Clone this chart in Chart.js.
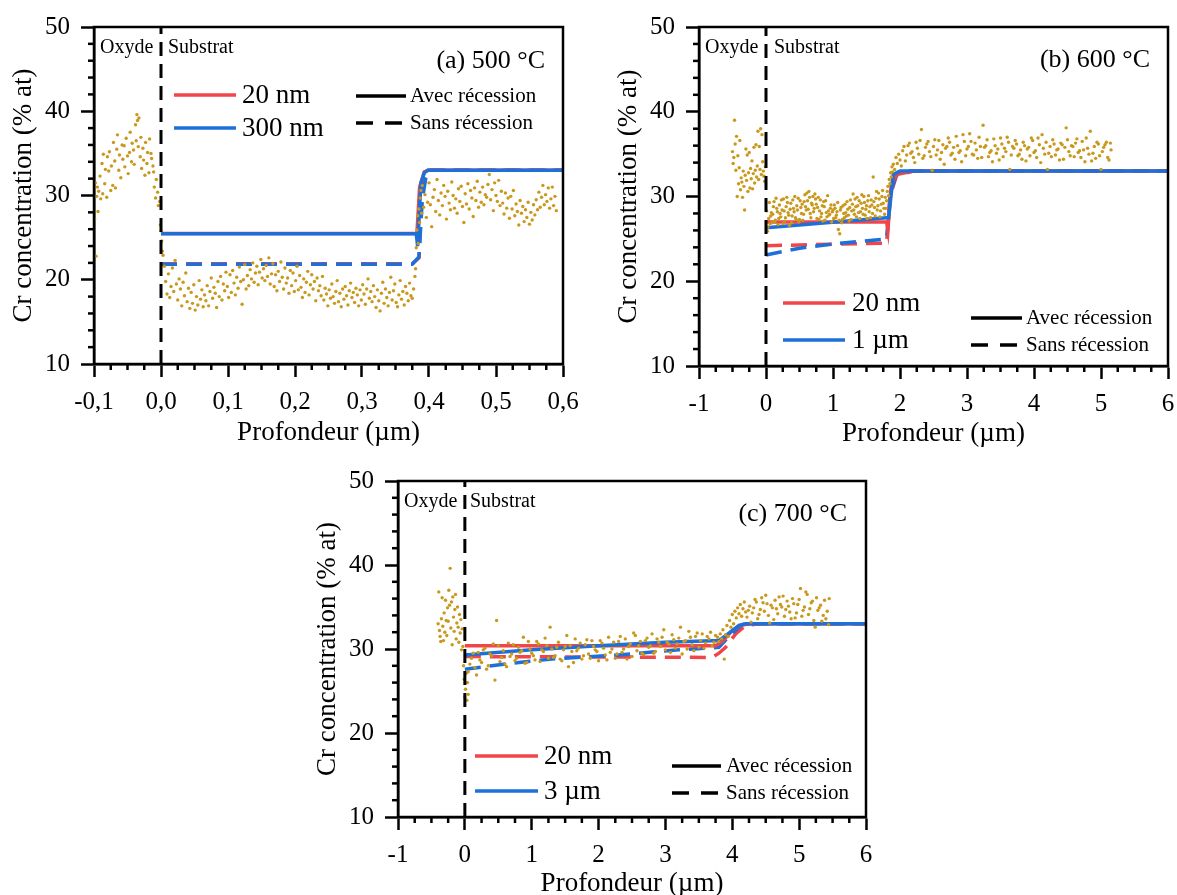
<!DOCTYPE html>
<html lang="fr">
<head>
<meta charset="utf-8">
<title>Profils Cr</title>
<script src="https://cdn.jsdelivr.net/npm/chart.js@4.4.1/dist/chart.umd.min.js"></script>
<style>
  html, body { margin: 0; padding: 0; background: #fff; }
  body { width: 1177px; height: 895px; position: relative; overflow: hidden; }
  canvas { position: absolute; }
</style>
</head>
<body>
<canvas id="chartA" width="590" height="450" style="left:0;top:0"></canvas>
<canvas id="chartB" width="600" height="450" style="left:590px;top:0"></canvas>
<canvas id="chartC" width="600" height="440" style="left:300px;top:455px"></canvas>
<script>
// --- données (profondeur µm, Cr % at) ---

// (a) 500 °C : mesures
const mesuresA = [
  [-0.100,30.8],[-0.099,27.2],[-0.098,31.5],[-0.097,22.8],[-0.096,29.9],[-0.095,31.0],[-0.094,28.1],[-0.093,30.5],
  [-0.091,32.3],[-0.090,29.6],[-0.088,33.8],[-0.087,30.2],[-0.086,34.9],[-0.084,31.4],[-0.083,33.1],[-0.081,29.8],
  [-0.080,34.6],[-0.078,32.9],[-0.077,35.2],[-0.075,30.6],[-0.074,33.5],[-0.072,31.2],[-0.071,36.3],[-0.069,34.1],
  [-0.068,30.9],[-0.066,35.5],[-0.065,37.2],[-0.063,33.0],[-0.062,34.8],[-0.060,32.1],[-0.058,36.0],[-0.057,34.3],
  [-0.055,35.9],[-0.054,33.4],[-0.052,36.8],[-0.050,34.7],[-0.049,32.6],[-0.047,35.1],[-0.046,37.5],[-0.044,34.0],
  [-0.043,36.2],[-0.041,35.4],[-0.040,33.7],[-0.038,38.4],[-0.037,36.5],[-0.036,39.6],[-0.035,38.9],[-0.034,35.8],
  [-0.033,39.2],[-0.031,34.6],[-0.030,36.9],[-0.029,33.2],[-0.027,35.6],[-0.026,34.2],[-0.024,32.4],[-0.023,36.3],
  [-0.021,33.8],[-0.020,35.1],[-0.018,32.7],[-0.017,36.7],[-0.015,35.0],[-0.014,34.4],[-0.012,33.5],[-0.011,32.8],
  [-0.010,31.0],[-0.008,29.7],[-0.007,31.9],[-0.005,30.4],[-0.004,28.8],[-0.002,29.3],[-0.001,26.5],[0.000,25.8],
  [0.001,24.6],[0.002,23.4],[0.003,22.9],
  [0.005,21.6],[0.007,19.8],[0.009,18.3],[0.011,20.7],[0.013,17.9],[0.015,19.2],[0.017,21.4],[0.019,18.6],
  [0.021,22.3],[0.023,19.5],[0.025,17.6],[0.027,20.1],[0.029,18.9],[0.031,16.9],[0.033,19.7],[0.035,18.1],
  [0.037,20.8],[0.039,17.4],[0.041,19.0],[0.043,16.6],[0.045,18.5],[0.047,17.2],[0.049,19.4],[0.051,16.4],
  [0.053,18.0],[0.055,17.0],[0.057,19.9],[0.059,17.7],[0.061,18.8],[0.063,16.8],[0.065,18.2],[0.067,17.5],
  [0.069,19.3],[0.071,16.9],[0.073,18.6],[0.075,20.2],[0.077,17.8],[0.079,19.1],[0.081,18.4],[0.083,16.7],
  [0.085,19.8],[0.087,18.0],[0.089,20.4],[0.091,17.6],[0.093,19.5],[0.095,18.7],[0.097,20.9],[0.099,19.2],
  [0.101,17.9],[0.103,20.6],[0.105,18.5],[0.107,21.1],[0.109,19.6],[0.111,18.2],[0.113,20.3],[0.115,19.0],
  [0.117,21.5],[0.119,19.8],[0.121,17.1],[0.123,20.0],[0.125,21.8],[0.127,18.9],[0.129,20.5],[0.131,19.3],
  [0.133,21.2],[0.135,20.1],[0.137,22.0],[0.139,19.7],[0.141,20.8],[0.143,21.6],[0.145,19.4],[0.147,20.9],
  [0.149,22.4],[0.151,20.2],[0.153,21.3],[0.155,19.9],[0.157,21.7],[0.159,20.4],[0.161,22.6],[0.163,19.5],
  [0.165,20.7],[0.167,21.9],[0.169,19.2],[0.171,20.6],[0.173,18.7],[0.175,21.0],[0.177,19.8],[0.179,22.1],
  [0.181,20.3],[0.183,18.9],[0.185,21.4],[0.187,19.6],[0.189,20.2],[0.191,18.4],[0.193,21.1],[0.195,19.3],
  [0.197,20.8],[0.199,18.6],[0.201,19.9],[0.203,21.6],[0.205,18.8],[0.207,20.5],[0.209,19.1],[0.211,17.9],
  [0.213,20.1],[0.215,18.5],[0.217,19.7],[0.219,21.0],[0.221,18.2],[0.223,19.4],[0.225,20.6],[0.227,18.9],
  [0.229,19.8],[0.231,17.5],[0.233,20.2],[0.235,18.7],[0.237,19.3],[0.239,18.1],[0.241,20.4],[0.243,17.6],
  [0.245,19.0],[0.247,18.3],[0.249,16.9],[0.251,18.8],[0.253,17.8],[0.255,19.5],[0.257,18.0],[0.259,17.2],
  [0.261,18.6],[0.263,19.9],[0.265,17.4],[0.267,18.4],[0.269,16.8],[0.271,18.9],[0.273,17.7],[0.275,19.2],
  [0.277,18.1],[0.279,17.0],[0.281,18.7],[0.283,19.6],[0.285,17.9],[0.287,18.5],[0.289,17.3],[0.291,19.0],
  [0.293,18.2],[0.295,16.9],[0.297,18.8],[0.299,17.6],[0.301,19.4],[0.303,18.3],[0.305,17.1],[0.307,18.9],
  [0.309,20.1],[0.311,17.8],[0.313,18.6],[0.315,17.4],[0.317,19.3],[0.319,18.0],[0.321,16.7],[0.323,18.8],
  [0.325,17.5],[0.327,16.3],[0.329,18.4],[0.331,19.7],[0.333,17.2],[0.335,18.9],[0.337,17.9],[0.339,16.9],
  [0.341,18.5],[0.343,20.3],[0.345,17.6],[0.347,18.7],[0.349,19.5],[0.351,17.3],[0.353,16.8],[0.355,18.2],
  [0.357,19.9],[0.359,17.7],[0.361,18.6],[0.363,17.0],[0.365,19.2],[0.367,18.4],[0.369,17.5],[0.371,19.6],
  [0.373,18.1],[0.375,17.8],[0.377,18.9],[0.379,20.4],[0.380,21.3],
  [0.381,23.8],[0.382,25.9],[0.383,27.6],[0.384,24.3],[0.385,28.4],[0.386,26.8],[0.387,29.7],[0.388,30.6],
  [0.389,27.9],[0.390,31.2],
  [0.392,28.6],[0.394,30.1],[0.396,27.4],[0.398,29.2],[0.400,31.5],[0.402,28.9],[0.404,26.3],[0.406,29.8],
  [0.408,30.7],[0.410,28.1],[0.412,31.9],[0.414,29.4],[0.416,27.7],[0.418,30.3],[0.420,28.8],[0.422,31.2],
  [0.424,29.9],[0.426,27.2],[0.428,30.5],[0.430,29.1],[0.432,28.3],[0.434,31.6],[0.436,30.0],[0.438,28.5],
  [0.440,29.6],[0.442,27.9],[0.444,30.8],[0.446,29.3],[0.448,31.1],[0.450,28.7],[0.452,26.8],[0.454,30.2],
  [0.456,29.0],[0.458,31.4],[0.460,28.4],[0.462,30.6],[0.464,29.7],[0.466,27.5],[0.468,30.9],[0.470,29.4],
  [0.472,31.7],[0.474,28.6],[0.476,30.4],[0.478,29.2],[0.480,31.0],[0.482,28.9],[0.484,30.1],[0.486,29.8],
  [0.488,31.3],[0.490,32.5],[0.492,29.5],[0.494,30.7],[0.496,28.2],[0.498,31.5],[0.500,30.0],[0.502,29.3],
  [0.504,31.8],[0.506,28.8],[0.508,30.5],[0.510,29.1],[0.512,27.8],[0.514,30.3],[0.516,28.5],[0.518,29.7],
  [0.520,27.3],[0.522,29.9],[0.524,28.4],[0.526,30.6],[0.528,27.6],[0.530,29.0],[0.532,28.1],[0.534,26.5],
  [0.536,29.4],[0.538,27.9],[0.540,28.7],[0.542,26.9],[0.544,28.3],[0.546,27.4],[0.548,29.2],[0.550,26.6],
  [0.552,28.0],[0.554,27.1],[0.556,28.9],[0.558,27.7],[0.560,29.5],[0.562,28.3],[0.564,30.4],[0.566,28.6],
  [0.568,29.8],[0.570,31.2],[0.572,28.9],[0.574,30.1],[0.576,29.3],[0.578,30.9],[0.580,28.5],[0.582,29.6],
  [0.584,31.0],[0.586,28.8],[0.588,29.9],[0.590,28.2]
];
// (a) modèles : 20 nm / 300 nm, avec / sans récession
const a20Avec  = [[0,25.5],[0.382,25.5],[0.386,31.0],[0.393,32.8],[0.400,33],[0.6,33]];
const a300Avec = [[0,25.45],[0.381,25.45],[0.383,24.0],[0.388,31.5],[0.393,32.7],[0.398,33],[0.6,33]];
const a20Sans  = [[0,21.9],[0.375,21.9],[0.385,22.6],[0.390,31.0],[0.395,33],[0.6,33]];
const a300Sans = [[0,21.85],[0.375,21.85],[0.385,22.7],[0.390,29.5],[0.395,32.0],[0.400,33],[0.6,33]];

// (b) 600 °C : mesures
const mesuresB = [
  [-0.50,35.3],[-0.49,33.9],[-0.48,34.6],[-0.47,39.0],[-0.46,36.2],[-0.45,33.1],[-0.44,37.1],[-0.43,30.0],
  [-0.42,34.8],[-0.41,31.5],[-0.40,33.4],[-0.39,36.6],[-0.38,30.8],[-0.37,32.2],[-0.36,31.7],[-0.35,29.9],
  [-0.34,33.0],[-0.33,31.2],[-0.32,28.4],[-0.31,32.5],[-0.30,35.6],[-0.29,31.9],[-0.28,34.9],[-0.27,30.6],
  [-0.26,32.8],[-0.25,35.2],[-0.24,31.0],[-0.23,33.3],[-0.22,32.1],[-0.21,34.2],[-0.20,30.9],[-0.19,32.7],
  [-0.18,35.8],[-0.17,31.6],[-0.16,33.1],[-0.15,36.1],[-0.14,32.3],[-0.13,33.6],[-0.12,37.7],[-0.11,32.0],
  [-0.10,35.9],[-0.09,33.2],[-0.08,38.0],[-0.07,32.6],[-0.06,37.3],[-0.05,34.1],[-0.04,33.0],[-0.03,32.4],
  [-0.02,31.8],[-0.01,33.5],
  [0.01,28.3],[0.02,25.9],[0.03,26.4],[0.04,27.4],[0.05,29.3],[0.06,26.8],[0.07,27.7],[0.08,28.1],
  [0.09,26.9],[0.10,27.9],[0.11,28.8],[0.12,29.4],[0.13,27.0],[0.14,27.2],[0.15,29.8],[0.16,28.6],
  [0.17,28.2],[0.18,26.7],[0.19,27.4],[0.20,29.0],[0.21,28.0],[0.22,27.6],[0.23,29.6],[0.24,28.4],
  [0.25,26.8],[0.26,29.7],[0.27,28.3],[0.28,27.1],[0.29,27.5],[0.30,28.8],[0.31,29.9],[0.32,29.3],
  [0.33,28.1],[0.34,27.8],[0.35,26.6],[0.36,28.5],[0.37,29.2],[0.38,26.9],[0.39,27.7],[0.40,29.6],
  [0.41,28.6],[0.42,28.2],[0.43,30.0],[0.44,27.5],[0.45,27.3],[0.46,28.9],[0.47,28.4],[0.48,29.8],
  [0.49,27.0],[0.50,27.3],[0.51,29.5],[0.52,28.7],[0.53,28.0],[0.54,29.1],[0.55,27.2],[0.56,27.9],
  [0.57,29.4],[0.58,30.2],[0.59,28.8],[0.60,28.4],[0.61,30.4],[0.62,29.5],[0.63,28.5],[0.64,30.6],
  [0.65,29.9],[0.66,28.0],[0.67,27.5],[0.68,29.2],[0.69,29.0],[0.70,30.0],[0.71,28.2],[0.72,28.6],
  [0.73,30.3],[0.74,29.7],[0.75,29.1],[0.76,27.4],[0.77,28.7],[0.78,29.9],[0.79,27.3],[0.80,28.3],
  [0.81,29.6],[0.82,27.6],[0.83,28.0],[0.84,28.9],[0.85,27.1],[0.86,29.4],[0.87,28.8],[0.88,27.2],
  [0.89,29.5],[0.90,28.1],[0.91,27.6],[0.92,30.1],[0.93,28.3],[0.94,27.8],[0.95,27.9],[0.96,28.6],
  [0.97,29.0],[0.98,27.0],[0.99,28.2],[1.00,28.4],[1.01,27.4],[1.02,29.0],[1.03,28.6],[1.04,27.5],
  [1.05,27.8],[1.06,28.2],[1.07,29.3],[1.08,26.1],[1.09,27.2],[1.10,25.6],[1.11,28.4],[1.12,28.7],
  [1.13,26.9],[1.14,27.3],[1.15,28.9],[1.16,28.0],[1.17,27.5],[1.18,29.1],[1.19,28.1],[1.20,27.7],
  [1.21,29.4],[1.22,28.5],[1.23,27.8],[1.24,27.1],[1.25,28.7],[1.26,29.6],[1.27,27.3],[1.28,28.3],
  [1.29,29.1],[1.30,30.3],[1.31,28.4],[1.32,27.9],[1.33,29.7],[1.34,28.8],[1.35,27.6],[1.36,29.9],
  [1.37,28.9],[1.38,28.1],[1.39,29.5],[1.40,27.4],[1.41,28.2],[1.42,29.2],[1.43,30.2],[1.44,28.6],
  [1.45,27.9],[1.46,30.0],[1.47,29.3],[1.48,27.8],[1.49,28.5],[1.50,28.9],[1.51,27.4],[1.52,29.5],
  [1.53,30.1],[1.54,28.2],[1.55,28.8],[1.56,27.5],[1.57,29.6],[1.58,29.0],[1.59,28.0],[1.60,32.3],
  [1.61,29.4],[1.62,28.7],[1.63,27.7],[1.64,29.8],[1.65,30.6],[1.66,28.4],[1.67,28.9],[1.68,30.4],
  [1.69,29.7],[1.70,27.6],[1.71,28.3],[1.72,29.1],[1.73,30.0],[1.74,30.7],[1.75,29.2],[1.76,28.6],
  [1.77,27.9],[1.78,29.9],[1.79,28.6],
  [1.80,29.5],[1.81,30.6],[1.82,31.2],[1.83,30.1],[1.84,32.0],[1.85,31.5],[1.86,32.8],[1.87,32.3],
  [1.88,33.5],[1.89,32.9],[1.90,33.8],[1.92,33.2],[1.94,34.6],[1.96,33.9],[1.98,35.0],[2.00,34.3],
  [2.02,33.6],[2.04,35.4],[2.06,35.9],[2.08,34.2],[2.10,34.9],[2.12,36.0],[2.14,36.3],[2.16,35.1],
  [2.18,35.3],[2.20,34.6],[2.22,34.0],[2.24,36.4],[2.26,35.7],[2.28,35.0],[2.30,36.6],[2.32,37.9],
  [2.34,34.5],[2.36,34.8],[2.38,35.8],[2.40,36.2],[2.42,36.5],[2.44,35.3],[2.46,34.7],[2.48,33.1],
  [2.50,35.9],[2.52,36.7],[2.54,34.9],[2.56,35.5],[2.58,36.6],[2.60,34.4],[2.62,35.2],[2.64,36.1],
  [2.66,33.8],[2.68,35.7],[2.70,35.9],[2.72,36.9],[2.74,36.4],[2.76,34.9],[2.78,35.1],[2.80,35.8],
  [2.82,34.4],[2.84,37.1],[2.86,36.0],[2.88,35.2],[2.90,35.4],[2.92,34.1],[2.94,37.3],[2.96,36.5],
  [2.98,34.8],[3.00,35.6],[3.02,35.9],[3.04,37.4],[3.06,36.5],[3.08,35.0],[3.10,34.9],[3.12,36.3],
  [3.14,35.5],[3.16,34.5],[3.18,37.0],[3.20,35.9],[3.22,34.6],[3.24,38.4],[3.26,35.8],[3.28,36.0],
  [3.30,36.7],[3.32,34.7],[3.34,35.2],[3.36,35.4],[3.38,34.1],[3.40,36.8],[3.42,36.0],[3.44,35.1],
  [3.46,35.6],[3.48,34.3],[3.50,36.9],[3.52,36.2],[3.54,34.7],[3.56,35.7],[3.58,35.3],[3.60,37.0],
  [3.62,36.4],[3.64,33.2],[3.66,34.9],[3.68,35.9],[3.70,35.7],[3.72,36.6],[3.74,36.2],[3.76,34.8],
  [3.78,35.0],[3.80,35.5],[3.82,34.4],[3.84,36.4],[3.86,36.0],[3.88,34.2],[3.90,35.6],[3.92,35.8],
  [3.94,34.8],[3.96,36.9],[3.98,36.6],[4.00,35.2],[4.02,35.4],[4.04,34.6],[4.06,36.9],[4.08,36.1],
  [4.10,34.0],[4.12,37.3],[4.14,35.7],[4.16,35.0],[4.18,36.4],[4.20,33.2],[4.22,35.1],[4.24,35.9],
  [4.26,34.7],[4.28,36.7],[4.30,36.2],[4.32,34.9],[4.34,35.5],[4.36,35.6],[4.38,34.3],[4.40,36.3],
  [4.42,36.1],[4.44,34.4],[4.46,35.8],[4.48,38.1],[4.50,36.7],[4.52,35.3],[4.54,34.8],[4.56,36.0],
  [4.58,35.9],[4.60,34.7],[4.62,36.3],[4.64,36.8],[4.66,35.2],[4.68,35.4],[4.70,34.6],[4.72,36.5],
  [4.74,35.5],[4.76,34.1],[4.78,36.9],[4.80,35.7],[4.82,35.0],[4.84,37.7],[4.86,34.2],[4.88,35.1],
  [4.90,35.9],[4.92,34.5],[4.94,36.4],[4.96,36.2],[4.98,34.8],[5.00,33.2],[5.02,35.3],[5.04,35.8],
  [5.06,36.1],[5.08,36.4],[5.10,34.6],[5.12,34.3],[5.14,36.3],[5.15,35.5]
];
// (b) modèles : 20 nm / 1 µm
const b20Avec = [[0,27.0],[1.80,27.0],[1.82,26.0],[1.87,31.5],[1.95,32.6],[2.20,33],[6,33]];
const b1Avec  = [[0,26.3],[1.80,27.5],[1.83,27.5],[1.90,32.6],[2.00,33],[6,33]];
const b20Sans = [[0,24.2],[1.80,24.5],[1.85,30.0],[1.95,32.5],[2.20,33],[6,33]];
const b1Sans  = [[0,23.1],[0.5,23.9],[1.0,24.4],[1.80,25.0],[1.86,30.5],[1.95,32.7],[2.10,33],[6,33]];

// (c) 700 °C : mesures
const mesuresC = [
  [-0.40,33.0],[-0.39,36.8],[-0.38,32.2],[-0.37,31.5],[-0.36,30.9],[-0.35,33.6],[-0.34,36.1],[-0.33,32.7],
  [-0.32,31.0],[-0.31,34.3],[-0.30,32.0],[-0.29,35.8],[-0.28,33.4],[-0.27,31.6],[-0.26,34.9],[-0.25,33.3],
  [-0.24,37.0],[-0.23,35.2],[-0.22,39.6],[-0.21,32.5],[-0.20,35.6],[-0.19,30.5],[-0.18,36.2],[-0.17,33.8],
  [-0.16,32.1],[-0.15,34.7],[-0.14,36.5],[-0.13,31.2],[-0.12,33.1],[-0.11,35.0],[-0.10,32.6],[-0.09,30.8],
  [-0.08,34.1],[-0.07,31.9],[-0.06,33.5],[-0.05,29.9],[-0.04,32.4],[-0.03,30.3],[-0.02,28.0],[-0.01,26.4],
  [0.00,24.3],[0.01,25.2],[0.02,27.1],[0.03,23.9],[0.04,26.0],[0.05,24.6],
  [0.025,26.0],[0.05,27.3],[0.075,28.2],[0.10,28.9],[0.125,29.5],[0.15,27.8],[0.175,26.9],[0.20,29.6],
  [0.225,28.7],[0.25,28.4],[0.275,29.9],[0.30,30.1],[0.325,27.6],[0.35,28.0],[0.375,29.4],[0.40,29.2],
  [0.425,30.6],[0.45,26.3],[0.475,33.4],[0.50,30.4],[0.525,28.5],[0.55,29.0],[0.575,29.8],[0.60,28.2],
  [0.625,27.9],[0.65,30.7],[0.675,29.1],[0.70,29.4],[0.725,30.5],[0.75,28.6],[0.775,28.9],[0.80,30.2],
  [0.825,29.6],[0.85,29.8],[0.875,31.4],[0.90,28.3],[0.925,28.4],[0.95,30.9],[0.975,30.0],[1.00,29.5],
  [1.025,29.2],[1.05,28.7],[1.075,30.9],[1.10,30.6],[1.125,28.5],[1.15,29.9],[1.175,29.7],[1.20,31.3],
  [1.225,30.4],[1.25,28.9],[1.275,32.6],[1.30,30.0],[1.325,29.0],[1.35,29.2],[1.375,30.2],[1.40,30.8],
  [1.425,28.8],[1.45,28.6],[1.475,29.9],[1.50,30.3],[1.525,31.6],[1.55,27.9],[1.575,30.4],[1.60,29.7],
  [1.625,28.4],[1.65,31.2],[1.675,29.8],[1.70,30.1],[1.725,30.7],[1.75,28.8],[1.775,29.2],[1.80,30.5],
  [1.825,31.1],[1.85,29.4],[1.875,28.9],[1.90,31.0],[1.925,30.3],[1.95,29.9],[1.975,29.7],[2.00,28.6],
  [2.025,31.0],[2.05,30.7],[2.075,30.1],[2.10,29.3],[2.125,28.7],[2.15,31.4],[2.175,29.6],[2.20,30.0],
  [2.225,30.8],[2.25,28.9],[2.275,29.4],[2.30,30.9],[2.325,31.5],[2.35,29.6],[2.375,30.0],[2.40,31.2],
  [2.425,28.8],[2.45,30.3],[2.475,30.6],[2.50,29.1],[2.525,31.9],[2.55,31.6],[2.575,29.8],[2.60,30.4],
  [2.625,30.9],[2.65,29.5],[2.675,29.3],[2.70,31.0],[2.725,31.3],[2.75,30.2],[2.775,30.4],[2.80,31.8],
  [2.825,29.5],[2.85,29.7],[2.875,31.2],[2.90,30.8],[2.925,30.3],[2.95,31.4],[2.975,32.3],[3.00,29.9],
  [3.025,30.8],[3.05,30.6],[3.075,29.6],[3.10,31.7],[3.125,31.1],[3.15,30.1],[3.175,30.6],[3.20,31.3],
  [3.225,32.6],[3.25,29.4],[3.275,30.9],[3.30,31.0],[3.325,30.0],[3.35,32.1],[3.375,31.4],[3.40,30.5],
  [3.425,29.8],[3.45,31.5],[3.475,31.9],[3.50,30.2],[3.525,31.0],[3.55,31.8],[3.575,30.1],[3.60,30.7],
  [3.625,31.5],[3.65,31.2],[3.675,32.0],[3.70,30.4],[3.725,30.8],[3.75,31.6],
  [3.78,31.4],[3.80,30.9],[3.82,31.8],[3.84,31.2],[3.86,32.3],[3.88,28.8],[3.90,31.7],[3.92,32.8],
  [3.94,31.5],[3.96,33.4],[3.98,32.6],[4.00,34.1],[4.02,33.0],[4.04,34.5],[4.06,33.7],[4.08,34.9],
  [4.10,34.2],[4.12,35.3],[4.14,33.9],[4.16,34.8],[4.18,35.6],[4.20,34.4],
  [4.22,33.8],[4.24,34.6],[4.26,35.1],[4.28,33.2],[4.30,34.3],[4.32,34.9],[4.34,35.9],[4.36,35.6],
  [4.38,33.6],[4.40,34.1],[4.42,34.7],[4.44,36.1],[4.46,35.5],[4.48,34.5],[4.50,36.4],[4.52,35.4],
  [4.54,34.0],[4.56,33.1],[4.58,35.2],[4.60,34.9],[4.62,33.5],[4.64,35.8],[4.66,34.8],[4.68,34.2],
  [4.70,36.2],[4.72,35.3],[4.74,35.0],[4.76,36.3],[4.78,33.9],[4.80,34.7],[4.82,35.7],[4.84,35.1],
  [4.86,34.4],[4.88,33.6],[4.90,36.0],[4.92,35.4],[4.94,33.7],[4.96,34.3],[4.98,35.3],[5.00,35.9],
  [5.02,37.2],[5.04,33.9],[5.06,34.6],[5.08,35.0],[5.10,36.8],[5.12,36.5],[5.14,34.1],[5.16,34.8],
  [5.18,35.5],[5.20,35.7],[5.22,33.4],[5.24,32.6],[5.26,36.1],[5.28,34.6],[5.30,34.9],[5.32,35.2],
  [5.34,33.3],[5.36,34.0],[5.38,35.8],[5.40,33.6],[5.42,34.5],[5.44,32.9],[5.45,36.0]
];
// (c) modèles : 20 nm / 3 µm
const c20Avec = [[0,30.4],[3.75,30.4],[3.85,30.9],[4.00,32.2],[4.15,32.9],[4.30,33],[6,33]];
const c3Avec  = [[0,29.3],[1,29.9],[2,30.4],[3,30.8],[3.80,31.0],[3.95,31.9],[4.10,32.8],[4.20,33],[6,33]];
const c20Sans = [[0,29.1],[3.70,29.0],[3.80,29.5],[3.90,30.2],[4.05,31.8],[4.20,32.8],[4.40,33],[6,33]];
const c3Sans  = [[0,27.6],[0.7,28.3],[1.3,28.8],[2.3,29.3],[3.2,29.9],[3.80,30.2],[3.95,31.5],[4.15,32.9],[4.30,33],[6,33]];

// interface oxyde / substrat
const interfaceXY = [[0,10],[0,50]];

const ticksYMajeurs = [10, 20, 30, 40, 50];

// --- style ---
const SERIF = "'Liberation Serif', 'Times New Roman', serif";
const ROUGE = '#F0464A';
const BLEU = '#1D6FDA';
const OR = '#C9991D';
const TIRETS = [16, 9];

const pts = arr => arr.map(([x, y]) => ({ x, y }));

// textes, lignes de légende, petites graduations et cadre
const decor = {
    id: 'decor',
    afterDraw(chart, args, o) {
        const { ctx, chartArea: ca, scales: { x, y } } = chart;
        ctx.save();
        ctx.strokeStyle = '#000';
        ctx.lineWidth = 2.5;
        ctx.setLineDash([]);

        // graduations secondaires
        const nx = Math.round((x.max - x.min) / o.pasX);
        for (let i = 1; i < nx; i++) {
            if (i % 4 === 0) continue;
            const px = x.getPixelForValue(x.min + i * o.pasX);
            ctx.beginPath(); ctx.moveTo(px, ca.bottom); ctx.lineTo(px, ca.bottom + 6); ctx.stroke();
        }
        for (let i = 1; i < 20; i++) {
            if (i % 5 === 0) continue;
            const py = y.getPixelForValue(10 + i * 2);
            ctx.beginPath(); ctx.moveTo(ca.left - 6, py); ctx.lineTo(ca.left, py); ctx.stroke();
        }

        // cadre
        ctx.strokeRect(ca.left, ca.top, ca.width, ca.height);

        const L = ca.left, T = ca.top;
        ctx.fillStyle = '#000';
        ctx.textBaseline = 'middle';

        ctx.font = '20px ' + SERIF;
        ctx.textAlign = 'left';
        ctx.fillText('Oxyde', L + o.oxyde[0], T + o.oxyde[1]);
        ctx.fillText('Substrat', L + o.substrat[0], T + o.oxyde[1]);

        ctx.font = '26px ' + SERIF;
        ctx.textAlign = 'right';
        ctx.fillText(o.titre, L + o.titrePos[0], T + o.titrePos[1]);

        // légende des tailles
        const lg = o.legende;
        ctx.lineWidth = 3.5;
        [[ROUGE, lg.y1, '20 nm'], [BLEU, lg.y2, o.taille]].forEach(([c, yy, t]) => {
            ctx.strokeStyle = c;
            ctx.beginPath(); ctx.moveTo(L + lg.x1, T + yy); ctx.lineTo(L + lg.x2, T + yy); ctx.stroke();
            ctx.font = '27px ' + SERIF;
            ctx.textAlign = 'left';
            ctx.fillText(t, L + lg.xt, T + yy + 1);
        });

        // légende avec / sans récession
        ctx.strokeStyle = '#000';
        ctx.lineWidth = 3.5;
        ctx.font = '21px ' + SERIF;
        [[lg.y3, [], 'Avec récession'], [lg.y4, [17, 12], 'Sans récession']].forEach(([yy, d, t]) => {
            ctx.setLineDash(d);
            ctx.beginPath(); ctx.moveTo(L + lg.x3, T + yy); ctx.lineTo(L + lg.x4, T + yy); ctx.stroke();
            ctx.fillText(t, L + lg.xt2, T + yy);
        });
        ctx.restore();
    }
};

function creerPanneau(id, p) {
    const modele = (data, couleur, tirets, ordre) => ({
        data: pts(data), showLine: true, pointRadius: 0, borderColor: couleur,
        borderWidth: 3.5, borderDash: tirets, tension: 0, order: ordre
    });

    new Chart(document.getElementById(id), {
        type: 'scatter',
        data: {
            datasets: [
                { data: pts(interfaceXY), showLine: true, pointRadius: 0, borderColor: '#000',
                  borderWidth: 3, borderDash: [14, 8], order: 0 },
                { data: pts(p.mesures), pointRadius: 1.7, pointBackgroundColor: OR,
                  pointBorderWidth: 0, order: 1 },
                modele(p.taille2Avec, BLEU, [], 2),
                modele(p.taille1Avec, ROUGE, [], 3),
                modele(p.taille2Sans, BLEU, TIRETS, 4),
                modele(p.taille1Sans, ROUGE, TIRETS, 5)
            ]
        },
        options: {
            responsive: false,
            animation: false,
            layout: { padding: { top: p.padHaut, right: p.padDroite, left: 0, bottom: 0 } },
            plugins: { legend: { display: false }, tooltip: { enabled: false }, decor: p.decor },
            scales: {
                x: {
                    type: 'linear', min: p.xMin, max: p.xMax,
                    ticks: { stepSize: p.pasMajeur, color: '#000', padding: 10,
                             font: { family: SERIF, size: 25 }, callback: p.format },
                    grid: { drawOnChartArea: false, tickLength: 13, tickWidth: 2.5, tickColor: '#000' },
                    border: { color: '#000', width: 2.5 },
                    title: { display: true, text: 'Profondeur (µm)', color: '#000',
                             font: { family: SERIF, size: 27, lineHeight: 1 },
                             padding: { top: 0, bottom: p.titreXPad } },
                    afterFit: s => { s.height = p.hauteurX; }
                },
                y: {
                    min: 10, max: 50,
                    afterBuildTicks: s => { s.ticks = ticksYMajeurs.map(v => ({ value: v })); },
                    ticks: { color: '#000', padding: 11, font: { family: SERIF, size: 25 } },
                    grid: { drawOnChartArea: false, tickLength: 13, tickWidth: 2.5, tickColor: '#000' },
                    border: { color: '#000', width: 2.5 },
                    title: { display: true, text: 'Cr concentration (% at)', color: '#000',
                             font: { family: SERIF, size: 27, lineHeight: 1 },
                             padding: { top: p.titreYPad, bottom: 0 } },
                    afterFit: s => { s.width = p.largeurY; }
                }
            }
        },
        plugins: [decor]
    });
}

const virgule = v => (Math.abs(v) < 1e-9 ? 0 : v).toFixed(1).replace('.', ',');
const entier = v => String(Math.round(v));

document.addEventListener('DOMContentLoaded', () => {
    creerPanneau('chartA', {
        mesures: mesuresA, taille1Avec: a20Avec, taille2Avec: a300Avec,
        taille1Sans: a20Sans, taille2Sans: a300Sans,
        xMin: -0.1, xMax: 0.6, pasMajeur: 0.1, format: virgule,
        padHaut: 27, padDroite: 27, largeurY: 94, hauteurX: 86, titreXPad: 4, titreYPad: 10,
        decor: {
            pasX: 0.025, titre: '(a) 500 °C', titrePos: [451, 34], taille: '300 nm',
            oxyde: [6, 21], substrat: [74, 21],
            legende: { x1: 80, x2: 142, xt: 148, y1: 68, y2: 101, x3: 262, x4: 312, xt2: 316, y3: 69, y4: 96 }
        }
    });
    creerPanneau('chartB', {
        mesures: mesuresB, taille1Avec: b20Avec, taille2Avec: b1Avec,
        taille1Sans: b20Sans, taille2Sans: b1Sans,
        xMin: -1, xMax: 6, pasMajeur: 1, format: entier,
        padHaut: 27, padDroite: 22, largeurY: 109, hauteurX: 84, titreXPad: 3, titreYPad: 25,
        decor: {
            pasX: 0.25, titre: '(b) 600 °C', titrePos: [451, 33], taille: '1 µm',
            oxyde: [6, 21], substrat: [75, 21],
            legende: { x1: 84, x2: 146, xt: 153, y1: 276, y2: 313, x3: 272, x4: 323, xt2: 327, y3: 291, y4: 318 }
        }
    });
    creerPanneau('chartC', {
        mesures: mesuresC, taille1Avec: c20Avec, taille2Avec: c3Avec,
        taille1Sans: c20Sans, taille2Sans: c3Sans,
        xMin: -1, xMax: 6, pasMajeur: 1, format: entier,
        padHaut: 25, padDroite: 34, largeurY: 98, hauteurX: 78, titreXPad: -2, titreYPad: 14,
        decor: {
            pasX: 0.25, titre: '(c) 700 °C', titrePos: [449, 33], taille: '3 µm',
            oxyde: [6, 21], substrat: [72, 21],
            legende: { x1: 77, x2: 140, xt: 146, y1: 275, y2: 310, x3: 274, x4: 323, xt2: 328, y3: 285, y4: 312 }
        }
    });
});
</script>
</body>
</html>
